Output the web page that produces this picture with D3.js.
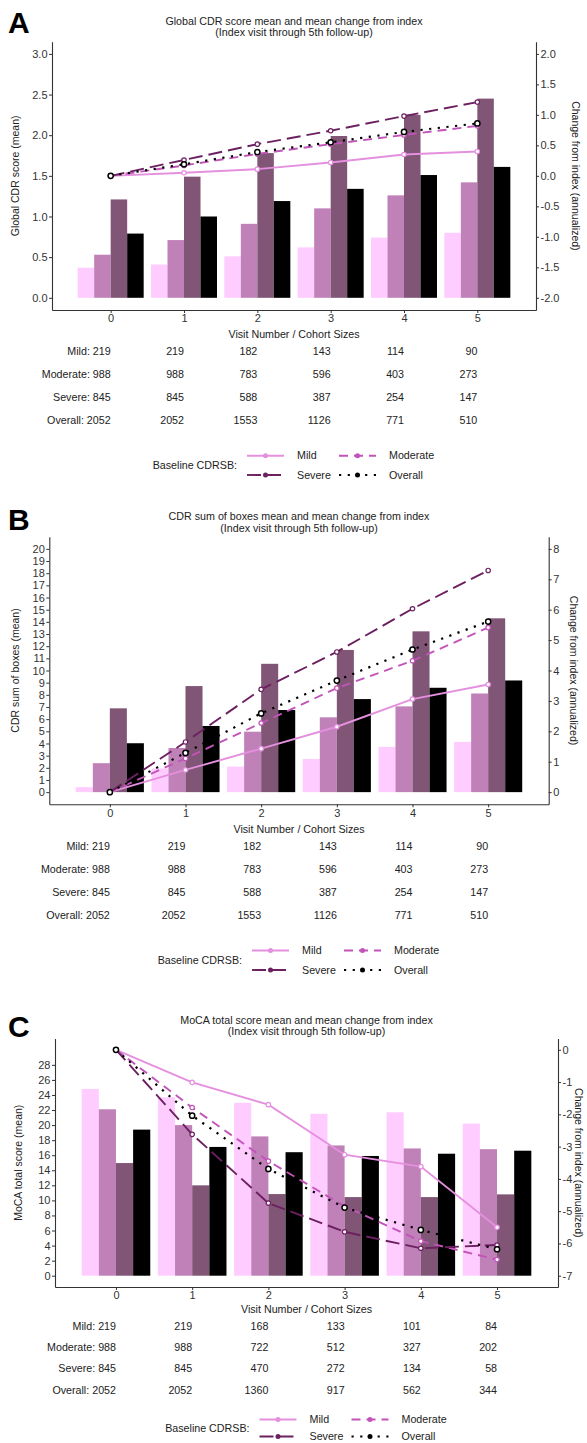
<!DOCTYPE html>
<html>
<head>
<meta charset="utf-8">
<title>CDR and MoCA over follow-up</title>
<script src="https://cdn.jsdelivr.net/npm/d3@7"></script>
<style>
    body { margin: 0; background: #fff; }
    text { font-family: "Liberation Sans", Arial, sans-serif; }
</style>
</head>
<body>
<div id="chart"></div>
<script>
// visits (x) and baseline CDRSB groups
var visits = [0, 1, 2, 3, 4, 5];
var groups = ["Mild", "Moderate", "Severe", "Overall"];

// A: global CDR score, mean per visit (bars)
var cdrMild     = [0.37, 0.41, 0.51, 0.62, 0.74, 0.80];
var cdrModerate = [0.53, 0.71, 0.91, 1.10, 1.26, 1.42];
var cdrSevere   = [1.21, 1.49, 1.78, 1.99, 2.25, 2.45];
var cdrOverall  = [0.79, 1.00, 1.19, 1.34, 1.51, 1.61];
// A: change from index, annualized (lines)
var cdrChgMild     = [0, 0.05, 0.11, 0.22, 0.35, 0.40];
var cdrChgModerate = [0, 0.17, 0.36, 0.52, 0.67, 0.82];
var cdrChgSevere   = [0, 0.26, 0.52, 0.74, 0.98, 1.21];
var cdrChgOverall  = [0, 0.19, 0.39, 0.55, 0.72, 0.86];

// B: CDR sum of boxes
var sobMild     = [0.41, 1.95, 2.10, 2.73, 3.72, 4.13];
var sobModerate = [2.38, 3.63, 4.97, 6.15, 7.05, 8.11];
var sobSevere   = [6.89, 8.72, 10.55, 11.69, 13.22, 14.29];
var sobOverall  = [4.02, 5.44, 6.75, 7.65, 8.58, 9.18];
var sobChgMild     = [0, 0.73, 1.43, 2.15, 3.06, 3.54];
var sobChgModerate = [0, 1.11, 2.27, 3.42, 4.32, 5.41];
var sobChgSevere   = [0, 1.65, 3.38, 4.61, 6.03, 7.29];
var sobChgOverall  = [0, 1.29, 2.59, 3.67, 4.69, 5.61];

// C: MoCA total score
var mocaMild     = [24.8, 23.7, 22.96, 21.5, 21.7, 20.2];
var mocaModerate = [22.1, 20.0, 18.5, 17.3, 16.9, 16.8];
var mocaSevere   = [14.96, 12.0, 10.84, 10.44, 10.44, 10.8];
var mocaOverall  = [19.4, 17.1, 16.4, 15.9, 16.2, 16.6];
var mocaChgMild     = [0, -1.01, -1.70, -3.25, -3.62, -5.50];
var mocaChgModerate = [0, -1.79, -3.45, -4.85, -5.93, -6.50];
var mocaChgSevere   = [0, -2.62, -4.75, -5.64, -6.15, -6.05];
var mocaChgOverall  = [0, -2.04, -3.69, -4.89, -5.58, -6.18];

// cohort sizes per visit
var cdrNMild     = [219, 219, 182, 143, 114, 90];
var cdrNModerate = [988, 988, 783, 596, 403, 273];
var cdrNSevere   = [845, 845, 588, 387, 254, 147];
var cdrNOverall  = [2052, 2052, 1553, 1126, 771, 510];
var mocaNMild     = [219, 219, 168, 133, 101, 84];
var mocaNModerate = [988, 988, 722, 512, 327, 202];
var mocaNSevere   = [845, 845, 470, 272, 134, 58];
var mocaNOverall  = [2052, 2052, 1360, 917, 562, 344];

// tick labels
var cdrTicks     = [0, 0.5, 1, 1.5, 2, 2.5, 3];
var cdrChgTicks  = [-2, -1.5, -1, -0.5, 0, 0.5, 1, 1.5, 2];
var sobTicks     = d3.range(0, 21);
var sobChgTicks  = d3.range(0, 9);
var mocaTicks    = d3.range(0, 29, 2);
var mocaChgTicks = d3.range(-7, 1);

var barColors  = ["#FFCCFF", "#C080B8", "#805575", "#000000"];
var lineColors = ["#E58FDF", "#C254B9", "#6C2060", "#000000"];
var dashes     = [null, "9,6", "14,6", "2.2,6.5"];

var svg = d3.select("#chart").append("svg")
    .attr("width", 587)
    .attr("height", 1443);

var fix1 = function(d){ return d.toFixed(1); };
var fix0 = function(d){ return String(d); };

var panels = [
    {letter: "A", letterY: 33,
     title: ["Global CDR score mean and mean change from index", "(Index visit through 5th follow-up)"], titleY: 21,
     yTitle: "Global CDR score (mean)", leftTitleX: 15, rightTitleX: 576,
     xr: [52, 536], yr: [310, 41.7],
     left: [-0.15, 3.15], right: [-2.2, 2.2],
     leftTicks: cdrTicks, rightTicks: cdrChgTicks, fmtL: fix1, fmtR: fix1,
     bars: [cdrMild, cdrModerate, cdrSevere, cdrOverall],
     lines: [cdrChgMild, cdrChgModerate, cdrChgSevere, cdrChgOverall],
     counts: [cdrNMild, cdrNModerate, cdrNSevere, cdrNOverall],
     visitY: 334, rows: [351.7, 374.3, 397, 420], legend: [455.7, 475]},
    {letter: "B", letterY: 530,
     title: ["CDR sum of boxes mean and mean change from index", "(Index visit through 5th follow-up)"], titleY: 516.7,
     yTitle: "CDR sum of boxes (mean)", leftTitleX: 15, rightTitleX: 574,
     xr: [49.3, 548.7], yr: [804.3, 536.7],
     left: [-1, 21], right: [-0.4, 8.4],
     leftTicks: sobTicks, rightTicks: sobChgTicks, fmtL: fix0, fmtR: fix0,
     bars: [sobMild, sobModerate, sobSevere, sobOverall],
     lines: [sobChgMild, sobChgModerate, sobChgSevere, sobChgOverall],
     counts: [cdrNMild, cdrNModerate, cdrNSevere, cdrNOverall],
     visitY: 829, rows: [846.7, 869.3, 892.3, 915], legend: [950.5, 970]},
    {letter: "C", letterY: 1037,
     title: ["MoCA total score mean and mean change from index", "(Index visit through 5th follow-up)"], titleY: 1020,
     yTitle: "MoCA total score (mean)", leftTitleX: 18, rightTitleX: 579,
     xr: [55, 558], yr: [1287, 1038.5],
     left: [-1.5, 31.5], right: [-7.35, 0.35],
     leftTicks: mocaTicks, rightTicks: mocaChgTicks, fmtL: fix0, fmtR: fix0,
     bars: [mocaMild, mocaModerate, mocaSevere, mocaOverall],
     lines: [mocaChgMild, mocaChgModerate, mocaChgSevere, mocaChgOverall],
     counts: [mocaNMild, mocaNModerate, mocaNSevere, mocaNOverall],
     visitY: 1309.3, rows: [1326, 1347.3, 1368.7, 1390], legend: [1419.5, 1436.5]}
];

function styleAxis(a) {
    a.select(".domain").attr("stroke", "#333").attr("stroke-width", 1.1);
    a.selectAll(".tick line").attr("stroke", "#333").attr("stroke-width", 1);
    a.selectAll(".tick text")
        .attr("font-size", "11px")
        .attr("font-family", "Liberation Sans, Arial, sans-serif")
        .attr("fill", "#333");
}

function drawPanel(p) {
    var x = d3.scaleLinear().domain([-0.8, 5.8]).range(p.xr);
    var yL = d3.scaleLinear().domain(p.left).range(p.yr);
    var yR = d3.scaleLinear().domain(p.right).range(p.yr);
    var g = svg.append("g");
    var cx = (p.xr[0] + p.xr[1]) / 2;
    var cy = (p.yr[0] + p.yr[1]) / 2;

    // panel letter
    g.append("text")
        .attr("x", 8).attr("y", p.letterY)
        .attr("font-family", "Liberation Serif, Times New Roman, serif")
        .attr("font-weight", "bold")
        .attr("font-size", "30px")
        .text(p.letter);

    // title
    p.title.forEach(function(t, i){
        g.append("text")
            .attr("x", cx).attr("y", p.titleY + i * 11.7)
            .attr("dy", "0.35em")
            .attr("text-anchor", "middle")
            .attr("font-size", "10.7px")
            .attr("fill", "#222")
            .text(t);
    });

    // bars, dodged inside each visit
    var bw = x(0.225) - x(0);
    p.bars.forEach(function(vals, gi){
        g.selectAll(null)
            .data(vals).enter()
            .append("rect")
            .attr("x", function(d, i){ return x(visits[i] - 0.45 + gi * 0.225); })
            .attr("width", bw)
            .attr("y", function(d){ return yL(d); })
            .attr("height", function(d){ return yL(0) - yL(d); })
            .attr("fill", barColors[gi]);
    });

    // axes
    var ax = g.append("g")
        .attr("transform", "translate(" + p.xr[0] + ",0)")
        .call(d3.axisLeft(yL).tickValues(p.leftTicks).tickFormat(p.fmtL)
            .tickSize(3).tickSizeOuter(0).tickPadding(1.5));
    styleAxis(ax);
    var axR = g.append("g")
        .attr("transform", "translate(" + p.xr[1] + ",0)")
        .call(d3.axisRight(yR).tickValues(p.rightTicks).tickFormat(p.fmtR)
            .tickSize(3).tickSizeOuter(0).tickPadding(1.5));
    styleAxis(axR);
    var axB = g.append("g")
        .attr("transform", "translate(0," + p.yr[0] + ")")
        .call(d3.axisBottom(x).tickValues(visits).tickFormat(fix0)
            .tickSize(3).tickSizeOuter(0).tickPadding(1.5));
    styleAxis(axB);

    // axis titles
    g.append("text")
        .attr("transform", "translate(" + p.leftTitleX + "," + cy + ") rotate(-90)")
        .attr("dy", "0.35em")
        .attr("text-anchor", "middle")
        .attr("font-size", "10.5px")
        .attr("fill", "#222")
        .text(p.yTitle);
    g.append("text")
        .attr("transform", "translate(" + p.rightTitleX + "," + cy + ") rotate(90)")
        .attr("dy", "0.35em")
        .attr("text-anchor", "middle")
        .attr("font-size", "10.5px")
        .attr("fill", "#222")
        .text("Change from index (annualized)");

    // change lines on the right axis
    var line = d3.line()
        .x(function(d, i){ return x(visits[i]); })
        .y(function(d){ return yR(d); });
    p.lines.forEach(function(vals, gi){
        g.append("path")
            .datum(vals)
            .attr("d", line)
            .attr("fill", "none")
            .attr("stroke", lineColors[gi])
            .attr("stroke-width", gi == 3 ? 2.2 : 1.9)
            .attr("stroke-dasharray", dashes[gi]);
    });
    p.lines.forEach(function(vals, gi){
        g.selectAll(null)
            .data(vals).enter()
            .append("circle")
            .attr("cx", function(d, i){ return x(visits[i]); })
            .attr("cy", function(d){ return yR(d); })
            .attr("r", gi == 3 ? 2.6 : 2.2)
            .attr("fill", "#fff")
            .attr("stroke", lineColors[gi])
            .attr("stroke-width", gi == 3 ? 1.5 : 1.2);
    });

    // x title and cohort table
    g.append("text")
        .attr("x", cx).attr("y", p.visitY)
        .attr("dy", "0.35em")
        .attr("text-anchor", "middle")
        .attr("font-size", "10.7px")
        .attr("fill", "#222")
        .text("Visit Number / Cohort Sizes");
    p.counts.forEach(function(ns, gi){
        g.selectAll(null)
            .data(ns).enter()
            .append("text")
            .attr("x", function(d, i){ return x(visits[i]); })
            .attr("y", p.rows[gi])
            .attr("dy", "0.35em")
            .attr("text-anchor", "end")
            .attr("font-size", "10.7px")
            .attr("fill", "#222")
            .text(function(d, i){ return i == 0 ? groups[gi] + ": " + d : d; });
    });

    // legend
    var kx0 = cx - 47;
    g.append("text")
        .attr("x", kx0 - 10).attr("y", (p.legend[0] + p.legend[1]) / 2)
        .attr("dy", "0.35em")
        .attr("text-anchor", "end")
        .attr("font-size", "10.7px")
        .attr("fill", "#222")
        .text("Baseline CDRSB:");
    groups.forEach(function(name, gi){
        var kx = kx0 + (gi % 2) * 92;
        var ky = p.legend[Math.floor(gi / 2)];
        g.append("line")
            .attr("x1", kx).attr("x2", kx + 37)
            .attr("y1", ky).attr("y2", ky)
            .attr("stroke", lineColors[gi])
            .attr("stroke-width", gi == 3 ? 2.2 : 1.9)
            .attr("stroke-dasharray", dashes[gi]);
        g.append("circle")
            .attr("cx", kx + 18.5).attr("cy", ky)
            .attr("r", 2.5)
            .attr("fill", lineColors[gi]);
        g.append("text")
            .attr("x", kx + 50).attr("y", ky)
            .attr("dy", "0.35em")
            .attr("font-size", "10.7px")
            .attr("fill", "#222")
            .text(name);
    });
}

panels.forEach(drawPanel);
</script>
</body>
</html>
